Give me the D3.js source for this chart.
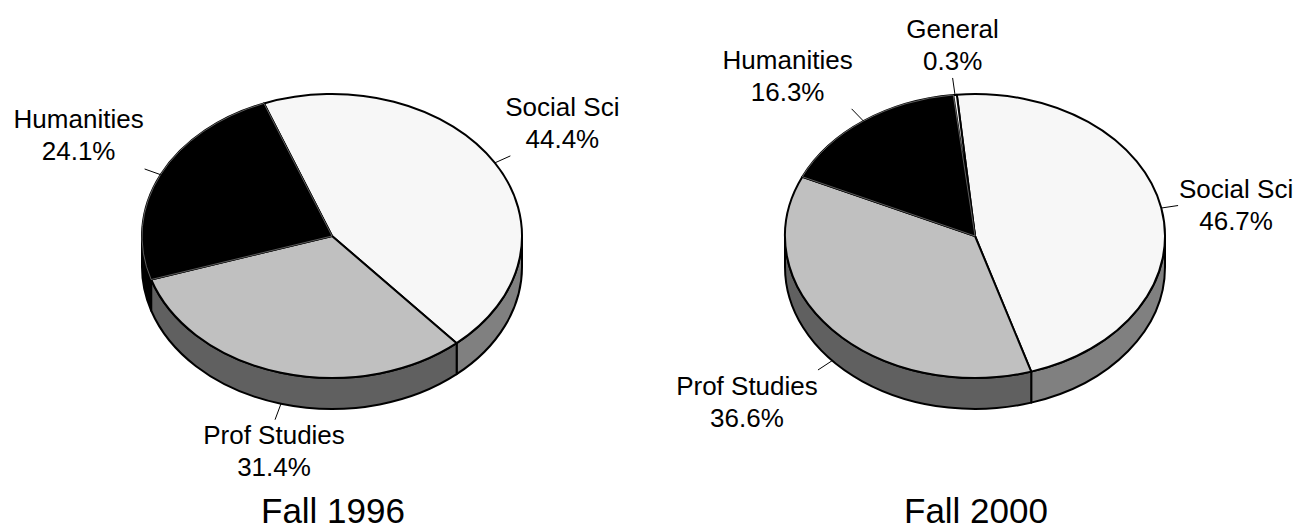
<!DOCTYPE html>
<html>
<head>
<meta charset="utf-8">
<script src="https://cdn.jsdelivr.net/npm/d3@7"></script>
<style>
  html, body { margin: 0; padding: 0; background: #fff; }
  svg { display: block; font-family: "Liberation Sans", Arial, sans-serif; }
</style>
</head>
<body>
<svg id="chart"></svg>
<script>
// Dados
const categories1996 = ['Social Sci', 'Prof Studies', 'Humanities'];
const values1996 = [44.4, 31.4, 24.1];
const categories2000 = ['Social Sci', 'Prof Studies', 'Humanities', 'General'];
const values2000 = [46.7, 36.6, 16.3, 0.3];
const titles = ['Fall 1996', 'Fall 2000'];

// Estilos por categoria (topo / lateral)
const topColor = { 'Social Sci': '#f7f7f7', 'Prof Studies': '#c0c0c0', 'Humanities': '#000000', 'General': '#ffffff' };
const sideColor = { 'Social Sci': '#808080', 'Prof Studies': '#606060', 'Humanities': '#000000', 'General': '#808080' };

const W = 1304, H = 531;
const RX = 190, RY = 142, DEPTH = 31;
const LEADER = 17;
const LINE_GAP = 32.5;

// Layout de cada pizza; labelOff = deslocamento do rótulo a partir da ponta da linha guia
const pies = [
    { title: titles[0], cats: categories1996, vals: values1996, cx: 332, cy: 236, start: -21,
      labelOff: { 'Social Sci': [52, -40], 'Prof Studies': [-1, 24], 'Humanities': [-66, -41] } },
    { title: titles[1], cats: categories2000, vals: values2000, cx: 975, cy: 236, start: -5.5,
      labelOff: { 'Social Sci': [58, -8], 'Prof Studies': [-71, 25], 'Humanities': [-64, -40], 'General': [0, -40] } }
];

const svg = d3.select('#chart').attr('width', W).attr('height', H);

const rad = d => d * Math.PI / 180;

function pt(cx, cy, t, dy = 0) {
    return [cx + RX * Math.cos(t), cy + RY * Math.sin(t) + dy];
}

function topPath(cx, cy, a0, a1) {
    const large = (a1 - a0) > Math.PI ? 1 : 0;
    return `M${cx},${cy}L${pt(cx, cy, a0)}A${RX},${RY} 0 ${large} 1 ${pt(cx, cy, a1)}Z`;
}

function sidePath(cx, cy, a, b) {
    return `M${pt(cx, cy, a)}A${RX},${RY} 0 0 1 ${pt(cx, cy, b)}` +
        `L${pt(cx, cy, b, DEPTH)}A${RX},${RY} 0 0 0 ${pt(cx, cy, a, DEPTH)}Z`;
}

// partes do intervalo [a0,a1] que caem na metade da frente (sin > 0)
function frontParts(a0, a1) {
    const parts = [];
    for (let k = -2; k <= 2; k++) {
        const lo = Math.max(a0, 2 * Math.PI * k), hi = Math.min(a1, 2 * Math.PI * k + Math.PI);
        if (hi > lo) parts.push([lo, hi]);
    }
    return parts;
}

pies.forEach(p => {
    const g = svg.append('g');
    const data = p.cats.map((c, i) => ({ cat: c, value: p.vals[i] }));
    const arcs = d3.pie().sort(null).value(d => d.value)
        .startAngle(rad(p.start)).endAngle(rad(p.start) + 2 * Math.PI)(data)
        .map(d => ({ ...d, t0: d.startAngle - Math.PI / 2, t1: d.endAngle - Math.PI / 2 }));

    // Laterais (desenhadas antes dos topos)
    const sides = [];
    arcs.forEach(d => frontParts(d.t0, d.t1).forEach(([a, b]) => sides.push({ cat: d.data.cat, a, b })));
    g.append('g').selectAll('path').data(sides).join('path')
        .attr('d', d => sidePath(p.cx, p.cy, d.a, d.b))
        .attr('fill', d => sideColor[d.cat])
        .attr('stroke', '#000')
        .attr('stroke-width', 2)
        .attr('stroke-linejoin', 'round');

    // Topos das fatias
    g.append('g').selectAll('path').data(arcs).join('path')
        .attr('d', d => topPath(p.cx, p.cy, d.t0, d.t1))
        .attr('fill', d => topColor[d.data.cat])
        .attr('stroke', '#000')
        .attr('stroke-width', 2)
        .attr('stroke-linejoin', 'round');

    // filete claro nas fatias pretas
    g.append('g').selectAll('path').data(arcs.filter(d => topColor[d.data.cat] === '#000000')).join('path')
        .attr('d', d => topPath(p.cx, p.cy, d.t0, d.t1))
        .attr('fill', 'none')
        .attr('stroke', '#9a9a9a')
        .attr('stroke-width', 0.6);

    // Linhas guia e rótulos
    arcs.forEach(d => {
        const m = (d.t0 + d.t1) / 2;
        const front = Math.sin(m) > 0;
        const s = pt(p.cx, p.cy, m, front ? DEPTH : 0);
        const vx = RX * Math.cos(m), vy = RY * Math.sin(m);
        const len = Math.hypot(vx, vy);
        const e = [s[0] + vx / len * LEADER, s[1] + vy / len * LEADER];

        g.append('line')
            .attr('x1', s[0]).attr('y1', s[1])
            .attr('x2', e[0]).attr('y2', e[1])
            .attr('stroke', '#000')
            .attr('stroke-width', 1);

        const off = p.labelOff[d.data.cat];
        const txt = g.append('text')
            .attr('text-anchor', 'middle')
            .attr('font-size', 26)
            .attr('fill', '#000');
        txt.append('tspan').attr('x', e[0] + off[0]).attr('y', e[1] + off[1]).text(d.data.cat);
        txt.append('tspan').attr('x', e[0] + off[0]).attr('y', e[1] + off[1] + LINE_GAP)
            .text(d3.format('.1f')(d.data.value) + '%');
    });

    // Título
    g.append('text')
        .attr('x', p.cx + 1)
        .attr('y', 523)
        .attr('text-anchor', 'middle')
        .attr('font-size', 35)
        .attr('fill', '#000')
        .text(p.title);
});
</script>
</body>
</html>
